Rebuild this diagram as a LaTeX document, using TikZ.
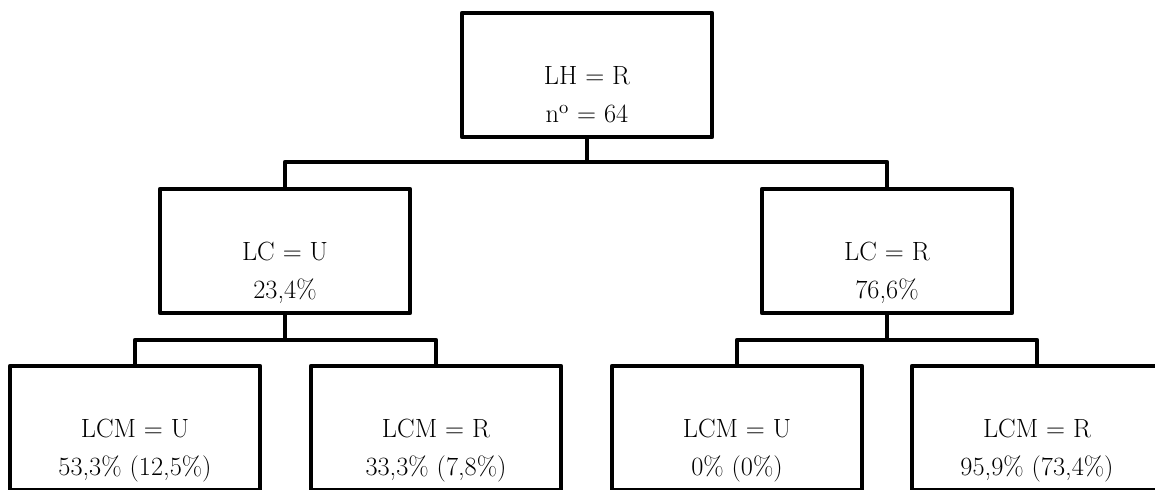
\documentclass[tikz,border=0pt]{standalone}
\usepackage{tikz}
\usetikzlibrary{calc}
\tikzset{
  tree box/.style={
    draw,
    line width=2.7pt,
    line join=round,
    minimum width=5cm,
    minimum height=2.48cm,
    inner sep=0pt,
  },
  tree text/.style={
    align=center,
    anchor=base,
    inner sep=0pt,
    font=\fontsize{15}{21.6}\selectfont,
  },
  tree line/.style={line width=2.7pt, line join=round},
}

\begin{document}
\begin{tikzpicture}
  \useasboundingbox (0,0) rectangle (23.1,9.78);
  \clip (0,0) rectangle (23.1,9.78);

  % boxes
  \node[tree box] (lh) at (11.74,8.28) {};
  \node[tree box] (lcu) at (5.7,4.76) {};
  \node[tree box] (lcr) at (17.74,4.76) {};
  \node[tree box] (lcmuu) at (2.7,1.22) {};
  \node[tree box] (lcmur) at (8.72,1.22) {};
  \node[tree box] (lcmru) at (14.74,1.22) {};
  \node[tree box] (lcmrr) at (20.74,1.22) {};

  % texts
  \node[tree text] (lh text) at ([yshift=0.34cm]lh.south) {LH = R\\n\textsuperscript{o} = 64};
  \node[tree text] (lcu text) at ([yshift=0.34cm]lcu.south) {LC = U\\23,4\%};
  \node[tree text] (lcr text) at ([yshift=0.34cm]lcr.south) {LC = R\\76,6\%};
  \node[tree text] (lcmuu text) at ([yshift=0.34cm]lcmuu.south) {LCM = U\\53,3\% (12,5\%)};
  \node[tree text] (lcmur text) at ([yshift=0.34cm]lcmur.south) {LCM = R\\33,3\% (7,8\%)};
  \node[tree text] (lcmru text) at ([yshift=0.34cm]lcmru.south) {LCM = U\\0\% (0\%)};
  \node[tree text] (lcmrr text) at ([yshift=0.34cm]lcmrr.south) {LCM = R\\95,9\% (73,4\%)};

  % junctions
  \coordinate (j0) at (11.74,6.54);
  \coordinate (ju) at (5.7,2.98);
  \coordinate (jr) at (17.74,2.98);

  \draw[tree line] (lh.south) -- (j0);
  \draw[tree line] (lcu.north) |- (j0) -| (lcr.north);
  \draw[tree line] (lcu.south) -- (ju);
  \draw[tree line] (lcmuu.north) |- (ju) -| (lcmur.north);
  \draw[tree line] (lcr.south) -- (jr);
  \draw[tree line] (lcmru.north) |- (jr) -| (lcmrr.north);
\end{tikzpicture}
\end{document}
